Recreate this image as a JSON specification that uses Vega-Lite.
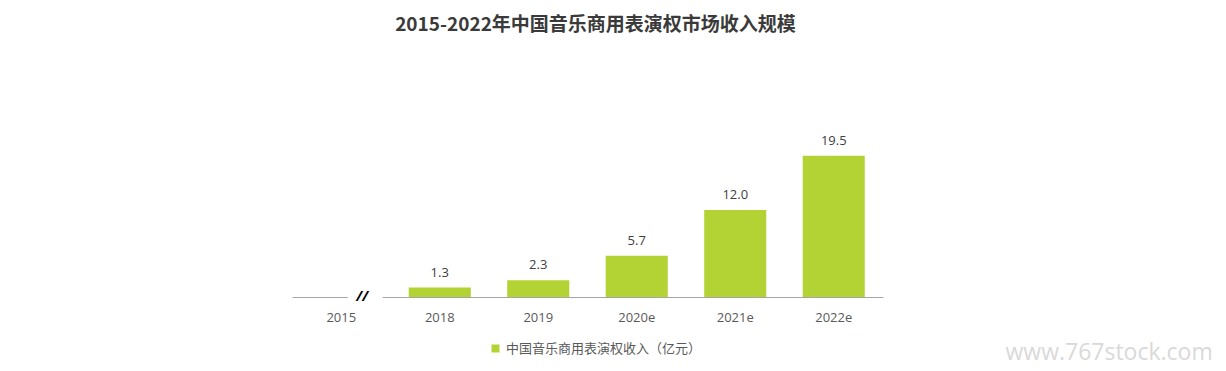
{
  "$schema": "https://vega.github.io/schema/vega-lite/v6.json",
  "width": 591,
  "height": 174,
  "padding": {"left": 292, "top": 16, "right": 0, "bottom": 0},
  "background": "white",
  "config": {"view": {"stroke": null}, "font": "Noto Sans CJK SC"},
  "title": {
    "text": "2015-2022年中国音乐商用表演权市场收入规模",
    "fontSize": 19,
    "fontWeight": "bold",
    "color": "#3a3a3a",
    "offset": 88,
    "anchor": "middle",
    "dx": 8
  },
  "data": {
    "values": [
      {"year": "2015", "value": null, "series": "中国音乐商用表演权收入（亿元）"},
      {"year": "2018", "value": 1.3, "series": "中国音乐商用表演权收入（亿元）"},
      {"year": "2019", "value": 2.3, "series": "中国音乐商用表演权收入（亿元）"},
      {"year": "2020e", "value": 5.7, "series": "中国音乐商用表演权收入（亿元）"},
      {"year": "2021e", "value": 12.0, "series": "中国音乐商用表演权收入（亿元）"},
      {"year": "2022e", "value": 19.5, "series": "中国音乐商用表演权收入（亿元）"}
    ]
  },
  "encoding": {
    "x": {
      "field": "year",
      "type": "ordinal",
      "scale": {"domain": ["2015", "2018", "2019", "2020e", "2021e", "2022e"], "paddingInner": 0.37, "paddingOuter": 0.185},
      "axis": {
        "title": "www.767stock.com",
        "titleX": 713,
        "titleY": 55,
        "titleAlign": "left",
        "titleBaseline": "middle",
        "titleFontSize": 23,
        "titleFontWeight": "normal",
        "titleColor": "#d9d9d9",
        "titleFont": "Open Sans",
        "labelAngle": 0,
        "labelFontSize": 13,
        "labelColor": "#595959",
        "labelPadding": 14,
        "labelFont": "Open Sans",
        "ticks": false,
        "domainColor": "#a6a6a6",
        "domainWidth": 1
      }
    }
  },
  "layer": [
    {
      "mark": {"type": "bar"},
      "encoding": {
        "y": {"field": "value", "type": "quantitative", "scale": {"domain": [0, 24]}, "axis": null},
        "color": {
          "field": "series",
          "type": "nominal",
          "scale": {"range": ["#b3d335"]},
          "legend": {
            "title": null,
            "orient": "none",
            "legendX": 197,
            "legendY": 219,
            "symbolType": "square",
            "symbolSize": 64,
            "labelFontSize": 13,
            "labelColor": "#595959",
            "labelLimit": 400
          }
        }
      }
    },
    {
      "transform": [{"filter": "datum.value != null"}],
      "mark": {"type": "text", "baseline": "bottom", "dy": -8, "fontSize": 13, "color": "#404040", "font": "Open Sans"},
      "encoding": {
        "y": {"field": "value", "type": "quantitative"},
        "text": {"field": "value", "type": "quantitative", "format": ".1f"}
      }
    },
    {
      "transform": [{"filter": "datum.year == '2015'"}],
      "mark": {"type": "point", "shape": "M-1,-0.12L1,-0.12L1,0.12L-1,0.12Z", "filled": true, "color": "white", "opacity": 1, "size": 1225, "xOffset": 24},
      "encoding": {"y": {"datum": 0}}
    },
    {
      "transform": [{"filter": "datum.year == '2015'"}],
      "mark": {"type": "text", "text": "//", "fontSize": 14, "fontWeight": "bold", "fontStyle": "italic", "color": "#000000", "xOffset": 21, "baseline": "middle", "font": "Open Sans"},
      "encoding": {"y": {"datum": 0}}
    }
  ]
}
